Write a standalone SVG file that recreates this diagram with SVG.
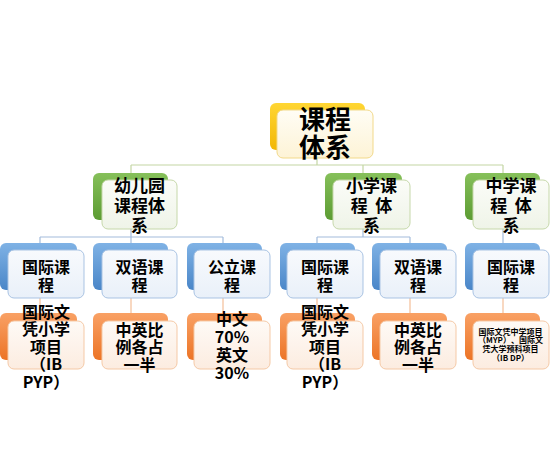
<svg xmlns="http://www.w3.org/2000/svg" width="550" height="473" viewBox="0 0 550 473">
<defs>
<linearGradient id="gY" x1="0" y1="0" x2="0" y2="1"><stop offset="0" stop-color="#ffd633"/><stop offset="1" stop-color="#f2b705"/></linearGradient>
<linearGradient id="gG" x1="0" y1="0" x2="0" y2="1"><stop offset="0" stop-color="#86c05a"/><stop offset="1" stop-color="#5c9c33"/></linearGradient>
<linearGradient id="gB" x1="0" y1="0" x2="0" y2="1"><stop offset="0" stop-color="#7fb2e5"/><stop offset="1" stop-color="#4a86c8"/></linearGradient>
<linearGradient id="gO" x1="0" y1="0" x2="0" y2="1"><stop offset="0" stop-color="#f9a165"/><stop offset="1" stop-color="#ec7426"/></linearGradient>
<linearGradient id="fY" x1="0" y1="0" x2="0" y2="1"><stop offset="0" stop-color="#fffdf5"/><stop offset="1" stop-color="#fdf3d6"/></linearGradient>
<linearGradient id="fG" x1="0" y1="0" x2="0" y2="1"><stop offset="0" stop-color="#fbfcf8"/><stop offset="1" stop-color="#eff4e8"/></linearGradient>
<linearGradient id="fB" x1="0" y1="0" x2="0" y2="1"><stop offset="0" stop-color="#f8fafd"/><stop offset="1" stop-color="#e9f0f9"/></linearGradient>
<linearGradient id="fO" x1="0" y1="0" x2="0" y2="1"><stop offset="0" stop-color="#fefaf6"/><stop offset="1" stop-color="#fcece0"/></linearGradient>
</defs>
<style>
.t{font-family:"Noto Sans CJK SC","Liberation Sans",sans-serif;font-weight:bold;fill:#000;text-anchor:middle}
.f1{font-size:26px}.f2{font-size:17px}.f3{font-size:16px}.f4{font-size:8px}
.bY{fill:url(#gY)}.bG{fill:url(#gG)}.bB{fill:url(#gB)}.bO{fill:url(#gO)}
.fY{fill:url(#fY);stroke:#f2d98a;stroke-width:1}
.fG{fill:url(#fG);stroke:#c6d8aa;stroke-width:1}
.fB{fill:url(#fB);stroke:#a9c3e3;stroke-width:1}
.fO{fill:url(#fO);stroke:#f5c9a6;stroke-width:1}
.cg{fill:none;stroke:#c4d6a4;stroke-width:1.2}
.cb{fill:none;stroke:#a3bcdc;stroke-width:1.2}
.co{fill:none;stroke:#f3bf98;stroke-width:1.2}
</style>
<g id="connectors">
<path class="cg" d="M317 158V165M131 165H503M131 165V173M363 165V173M503 165V173"/>
<path class="cb" d="M131 229V237M40 237H223M40 237V243M131 237V243M223 237V243M363 229V237M317 237H410M317 237V243M410 237V243M503 229V243"/>
<path class="co" d="M40 298V313M131 298V313M223 298V313M317 298V313M410 298V313M503 298V313"/>
</g>
<g id="n-root">
<rect class="bY" x="270" y="103" width="95" height="47" rx="6"/>
<rect class="fY" x="277" y="110" width="96" height="48" rx="6"/>
<text class="t f1" x="325" y="129">课程</text>
<text class="t f1" x="325" y="157">体系</text>
</g>
<g id="n-kg">
<rect class="bG" x="93" y="173" width="75" height="47" rx="6"/>
<rect class="fG" x="102" y="180" width="75" height="49" rx="6"/>
<text class="t f2" x="139.5" y="192">幼儿园</text>
<text class="t f2" x="139.5" y="212">课程体</text>
<text class="t f2" x="139.5" y="232">系</text>
</g>
<g id="n-pri">
<rect class="bG" x="325" y="173" width="77" height="47" rx="6"/>
<rect class="fG" x="333" y="180" width="77" height="49" rx="6"/>
<text class="t f2" x="371.5" y="192">小学课</text>
<text class="t f2" x="371.5" y="212" xml:space="preserve">程  体</text>
<text class="t f2" x="371.5" y="232">系</text>
</g>
<g id="n-sec">
<rect class="bG" x="465" y="173" width="75" height="47" rx="6"/>
<rect class="fG" x="473" y="180" width="76" height="49" rx="6"/>
<text class="t f2" x="511" y="192">中学课</text>
<text class="t f2" x="511" y="212" xml:space="preserve">程  体</text>
<text class="t f2" x="511" y="232">系</text>
</g>
<g id="n-kg-intl">
<rect class="bB" x="0" y="243" width="77" height="47" rx="6"/>
<rect class="fB" x="8" y="250" width="76" height="48" rx="6"/>
<text class="t f3" x="46" y="273">国际课</text>
<text class="t f3" x="46" y="291">程</text>
</g>
<g id="n-kg-bi">
<rect class="bB" x="93" y="243" width="75" height="47" rx="6"/>
<rect class="fB" x="102" y="250" width="75" height="48" rx="6"/>
<text class="t f3" x="139.5" y="273">双语课</text>
<text class="t f3" x="139.5" y="291">程</text>
</g>
<g id="n-kg-pub">
<rect class="bB" x="187" y="243" width="75" height="47" rx="6"/>
<rect class="fB" x="194" y="250" width="76" height="48" rx="6"/>
<text class="t f3" x="232" y="273">公立课</text>
<text class="t f3" x="232" y="291">程</text>
</g>
<g id="n-pri-intl">
<rect class="bB" x="280" y="243" width="75" height="47" rx="6"/>
<rect class="fB" x="287" y="250" width="76" height="48" rx="6"/>
<text class="t f3" x="325" y="273">国际课</text>
<text class="t f3" x="325" y="291">程</text>
</g>
<g id="n-pri-bi">
<rect class="bB" x="372" y="243" width="75" height="47" rx="6"/>
<rect class="fB" x="380" y="250" width="76" height="48" rx="6"/>
<text class="t f3" x="418" y="273">双语课</text>
<text class="t f3" x="418" y="291">程</text>
</g>
<g id="n-sec-intl">
<rect class="bB" x="465" y="243" width="75" height="47" rx="6"/>
<rect class="fB" x="473" y="250" width="76" height="48" rx="6"/>
<text class="t f3" x="511" y="273">国际课</text>
<text class="t f3" x="511" y="291">程</text>
</g>
<g id="n-kg-intl-d">
<rect class="bO" x="0" y="313" width="77" height="47" rx="6"/>
<rect class="fO" x="8" y="321" width="76" height="48" rx="6"/>
<text class="t f3" x="46" y="317.5">国际文</text>
<text class="t f3" x="46" y="335">凭小学</text>
<text class="t f3" x="46" y="352.5">项目</text>
<text class="t f3" x="46" y="370">（IB</text>
<text class="t f3" x="46" y="387.5">PYP）</text>
</g>
<g id="n-kg-bi-d">
<rect class="bO" x="93" y="313" width="75" height="47" rx="6"/>
<rect class="fO" x="102" y="321" width="75" height="48" rx="6"/>
<text class="t f3" x="139.5" y="336">中英比</text>
<text class="t f3" x="139.5" y="353">例各占</text>
<text class="t f3" x="139.5" y="371">一半</text>
</g>
<g id="n-kg-pub-d">
<rect class="bO" x="187" y="313" width="75" height="47" rx="6"/>
<rect class="fO" x="194" y="321" width="76" height="48" rx="6"/>
<text class="t f3" x="232" y="324.5">中文</text>
<text class="t f3" x="232" y="343">70%</text>
<text class="t f3" x="232" y="361">英文</text>
<text class="t f3" x="232" y="378.5">30%</text>
</g>
<g id="n-pri-intl-d">
<rect class="bO" x="280" y="313" width="75" height="47" rx="6"/>
<rect class="fO" x="287" y="321" width="76" height="48" rx="6"/>
<text class="t f3" x="325" y="317.5">国际文</text>
<text class="t f3" x="325" y="335">凭小学</text>
<text class="t f3" x="325" y="352.5">项目</text>
<text class="t f3" x="325" y="370">（IB</text>
<text class="t f3" x="325" y="387.5">PYP）</text>
</g>
<g id="n-pri-bi-d">
<rect class="bO" x="372" y="313" width="75" height="47" rx="6"/>
<rect class="fO" x="380" y="321" width="76" height="48" rx="6"/>
<text class="t f3" x="418" y="336">中英比</text>
<text class="t f3" x="418" y="353">例各占</text>
<text class="t f3" x="418" y="371">一半</text>
</g>
<g id="n-sec-intl-d">
<rect class="bO" x="465" y="313" width="75" height="47" rx="6"/>
<rect class="fO" x="473" y="321" width="76" height="48" rx="6"/>
<text class="t f4" x="510.5" y="334.7">国际文凭中学项目</text>
<text class="t f4" x="510.5" y="343">（MYP）、国际文</text>
<text class="t f4" x="510.5" y="352.3">凭大学预科项目</text>
<text class="t f4" x="510.5" y="360.7">（IB DP）</text>
</g>
</svg>
